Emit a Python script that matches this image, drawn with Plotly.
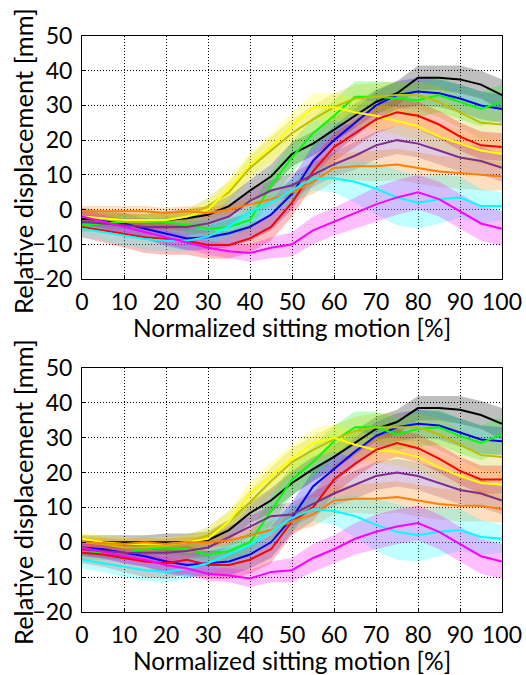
import plotly.graph_objects as go

x = [0, 5, 10, 15, 20, 25, 30, 35, 40, 45, 50, 55, 60, 65, 70, 75, 80, 85, 90, 95, 100]

names = ["black", "blue", "green", "olive", "yellow", "red", "purple", "orange", "cyan", "magenta"]
colors = {
    "black": "#000000", "blue": "#0000FF", "green": "#00FF00", "olive": "#BFBF00",
    "yellow": "#FFFF00", "red": "#FF0000", "purple": "#7E2F8E", "orange": "#FF8000",
    "cyan": "#00FFFF", "magenta": "#FF00FF",
}

x_title = "Normalized sitting motion [%]"
y_title = "Relative displacement [mm]"

# ---- top panel means ----
black_top = [-2.7, -2.8, -3, -3.2, -3, -2.5, -1.5, 1, 5.5, 9.5, 16, 19, 23, 27, 31, 33.5, 38, 38, 37.5, 36, 33]
blue_top = [-2, -3, -4, -5.5, -7, -8.3, -8, -6.8, -5, -1.5, 4.5, 14, 20, 25, 30, 33, 34, 33.5, 32, 30, 29]
green_top = [-4.5, -4, -3.5, -3.5, -3.5, -4.5, -5.5, -5, -3, 7, 15, 22, 27, 32.5, 32.5, 32, 31.5, 33, 31, 29, 31]
olive_top = [-2, -2.8, -3.5, -3.5, -3, -2, 1, 5, 12, 17, 22, 26, 29.5, 32, 32.5, 33, 33, 31, 28, 25, 24.5]
yellow_top = [-2, -2.5, -3, -3, -3, -2, 0, 6, 13, 18, 24, 29.5, 29.5, 28, 27, 25.5, 24, 21, 19, 17, 16]
red_top = [-5, -6, -7, -8, -8.5, -9, -10.2, -10.2, -8.3, -5, 2, 11, 18, 22, 26, 28, 27, 24.5, 21, 18.5, 18]
purple_top = [-3.5, -4, -4.5, -5, -5, -5, -4, -2, 2.5, 5.5, 7, 10, 13, 15.5, 18.5, 20, 19, 17, 15, 14, 12]
orange_top = [-0.5, -0.5, -0.5, -0.5, -1, -0.5, -1, 0, 1.5, 3, 5, 8, 12, 12.5, 12.5, 13, 12, 11, 10.5, 10, 9.5]
cyan_top = [-5.5, -6.5, -7.5, -8.5, -9, -9, -7.8, -4.9, -0.6, 2, 5.5, 9, 9, 8, 6, 3.5, 2, 3, 3.5, 1, 1]
magenta_top = [-2, -3.5, -5, -6.5, -8, -9.5, -11, -12, -12.5, -11, -10, -6, -3.5, -1, 1.5, 3.5, 5, 3, -0.5, -4, -5.5]

# ---- bottom panel means ----
black_bot = [0, 0, 0, 0, 0, 0, 0.6, 3.5, 8.4, 12, 17, 21, 24.5, 28.5, 32.5, 34.5, 38.5, 38.5, 38, 36.5, 34]
blue_bot = [-1.5, -2, -3, -4, -5.5, -6.5, -6, -5.5, -3.5, 0, 7, 16, 21, 26, 30.5, 33, 34, 33.5, 31.5, 29.5, 29]
green_bot = [-3, -3, -3, -2, -1.5, -2, -3.5, -2.5, 0, 9, 18, 23, 29, 33, 33, 31, 32.5, 33, 30.5, 28.5, 31]
olive_bot = [0, -0.5, -1.5, -1.5, -1, 0, 2, 6, 11.5, 17.5, 23, 26.5, 29.5, 32, 33, 33, 33, 31, 28, 25, 24.5]
yellow_bot = [1, 0, -0.5, -0.5, -0.5, 0, 1, 6, 14, 19, 24, 28.5, 30, 28, 26.5, 26, 24.5, 21.5, 19, 17, 16.5]
red_bot = [-3, -3.5, -4.5, -5.5, -6, -5, -6.5, -6.5, -5, -2, 6, 10, 18, 22.5, 26.5, 28.5, 27, 24, 20.5, 18, 18]
purple_bot = [-2, -2.5, -3, -3, -3, -2.5, -1.5, 1.5, 4.5, 7.5, 8, 11, 14, 16.5, 19, 20, 19, 17, 15, 14, 12]
orange_bot = [0, -0.3, -0.5, 0, -0.5, 0, 0, 0.5, 2, 3.5, 6, 8, 12, 12.5, 12.5, 13, 12, 11, 10.5, 10.5, 9.5]
cyan_bot = [-5, -6, -7, -8, -8.5, -7.5, -6, -3.5, -0.8, 3, 7, 9.5, 9, 7.5, 5, 3, 2, 3, 3.5, 1.5, 1]
magenta_bot = [-1.5, -2.8, -4, -5, -6.5, -7.5, -9, -9.5, -10.4, -8.5, -8, -4.5, -2, 1, 3, 4.5, 5.5, 3, -0.5, -4, -5.5]

# ---- band half-widths (shared by both panels) ----
std_black = [2, 2, 2, 2, 2.5, 2.5, 2.5, 3, 3, 3.5, 3.5, 3.5, 3.5, 3.5, 3.5, 3.5, 3.5, 3.5, 4, 4, 4.5]
std_blue = [2.5, 2.5, 3, 3, 3.5, 3.5, 3.5, 4, 4, 4.5, 4.5, 4.5, 4, 4, 4, 4, 4, 4, 4, 4, 4]
std_green = [2, 2, 2, 2, 2, 2, 2, 2.5, 3, 4, 4.5, 4.5, 4.5, 4.5, 4.5, 4.5, 5, 5, 5, 5, 5]
std_olive = [2, 2, 2, 2, 2, 2, 2.5, 3, 3.5, 4, 4, 4, 4, 4, 4, 4, 4, 4.5, 4.5, 4.5, 4.5]
std_yellow = [2, 2, 2, 2, 2, 2, 2.5, 3, 3.5, 4, 4, 4, 4, 4, 4, 4, 4, 4, 4, 4, 4]
std_red = [3, 3.5, 4, 4.5, 4.5, 4, 4, 4, 4, 4, 4, 4, 4, 4, 4, 4, 4, 4, 4, 4, 4]
std_purple = [2, 2, 2, 2.5, 2.5, 2.5, 2.5, 3, 3, 3, 3.5, 3.5, 3.5, 4, 4, 4, 4, 4, 4, 4, 4]
std_orange = [1.5, 1.5, 1.5, 1.5, 1.5, 1.5, 1.5, 1.5, 2, 2.5, 3, 3.5, 4, 4, 4.5, 4.5, 4.5, 4.5, 4.5, 4.5, 4]
std_cyan = [2.5, 2.5, 3, 3, 3, 3, 3, 3, 3.5, 3.5, 3.5, 3.5, 4, 6, 7.5, 8, 7.5, 7, 6, 5, 4]
std_magenta = [2, 2, 2, 2, 2, 2, 2, 2, 2.5, 3, 3.5, 4, 4, 4.5, 5, 5, 5, 5, 5, 5, 5]

top = {"black": black_top, "blue": blue_top, "green": green_top, "olive": olive_top,
       "yellow": yellow_top, "red": red_top, "purple": purple_top, "orange": orange_top,
       "cyan": cyan_top, "magenta": magenta_top}
bot = {"black": black_bot, "blue": blue_bot, "green": green_bot, "olive": olive_bot,
       "yellow": yellow_bot, "red": red_bot, "purple": purple_bot, "orange": orange_bot,
       "cyan": cyan_bot, "magenta": magenta_bot}
stds = {"black": std_black, "blue": std_blue, "green": std_green, "olive": std_olive,
        "yellow": std_yellow, "red": std_red, "purple": std_purple, "orange": std_orange,
        "cyan": std_cyan, "magenta": std_magenta}


def rgba(hexc, a):
    h = hexc.lstrip("#")
    r, g, b = int(h[0:2], 16), int(h[2:4], 16), int(h[4:6], 16)
    return f"rgba({r},{g},{b},{a})"


fig = go.Figure()

for data, xa, ya in [(top, "x", "y"), (bot, "x2", "y2")]:
    for n in names:
        m = data[n]
        s = stds[n]
        up = [a + b for a, b in zip(m, s)]
        lo = [a - b for a, b in zip(m, s)]
        fig.add_trace(go.Scatter(
            x=x + x[::-1], y=up + lo[::-1], fill="toself",
            fillcolor=rgba(colors[n], 0.25), line=dict(width=0),
            mode="lines", hoverinfo="skip", showlegend=False, xaxis=xa, yaxis=ya))
    for n in names:
        fig.add_trace(go.Scatter(
            x=x, y=data[n], mode="lines", line=dict(color=colors[n], width=2),
            showlegend=False, xaxis=xa, yaxis=ya))

tickfont = dict(family="Lato", size=23, color="#000000")
common = dict(showgrid=True, gridcolor="#000000", griddash="1px,2px", gridwidth=1,
              showline=True, linecolor="#000000", linewidth=1, mirror=True,
              ticks="inside", ticklen=4, tickcolor="#000000", zeroline=False,
              tickfont=tickfont, automargin=False)
xcommon = dict(range=[0, 100], tickvals=list(range(0, 101, 10)), ticklabelstandoff=2, **common)
ycommon = dict(range=[-20, 50], tickvals=list(range(-20, 51, 10)), ticklabelstandoff=4, **common)

W, H = 526, 675
xd = [82 / W, 502 / W]
titlefont_x = dict(family="Lato", size=24.5, color="#000000")
titlefont_y = dict(family="Lato", size=25.5, color="#000000")

annotations = []
for yc_x, yc_y in [(327, 161), (660, 492)]:
    annotations.append(dict(text=x_title, xref="paper", yref="paper", x=292 / W, y=1 - yc_x / H,
                            xanchor="center", yanchor="middle", showarrow=False, font=titlefont_x))
    annotations.append(dict(text=y_title, xref="paper", yref="paper", x=23 / W, y=1 - yc_y / H,
                            xanchor="center", yanchor="middle", showarrow=False, textangle=-90,
                            font=titlefont_y))

fig.update_layout(
    width=W, height=H, margin=dict(l=0, r=0, t=0, b=0, autoexpand=False),
    paper_bgcolor="white", plot_bgcolor="white",
    xaxis=dict(domain=xd, anchor="y", **xcommon),
    yaxis=dict(domain=[1 - 279 / H, 1 - 36 / H], anchor="x", **ycommon),
    xaxis2=dict(domain=xd, anchor="y2", **xcommon),
    yaxis2=dict(domain=[1 - 612 / H, 1 - 368 / H], anchor="x2", **ycommon),
    annotations=annotations,
)

fig.write_html("out.html")
